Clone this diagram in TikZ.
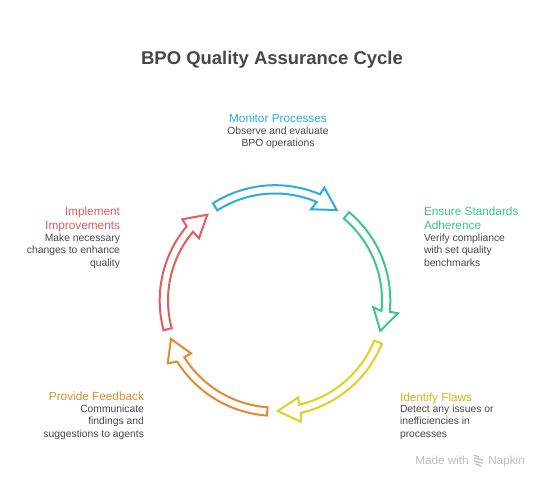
\documentclass[tikz,border=0pt]{standalone}
\usepackage{fontspec}
\setmainfont{Liberation Sans}
\usetikzlibrary{calc}
\definecolor{cblue}{HTML}{2BAEDC}
\definecolor{cgreen}{HTML}{3CC68A}
\definecolor{cyellow}{HTML}{E3CF1F}
\definecolor{corange}{HTML}{E38A30}
\definecolor{cred}{HTML}{E55C5C}
\definecolor{ctext}{HTML}{474747}
\newcommand{\flowarrow}[6]{%
 \draw[flowline,draw=#1] ($(hub)+(#2:115.3)$) arc[start angle=#2,end angle=#3,radius=115.3]
   -- #4 -- #5 -- #6 -- ($(hub)+(#3:107)$) arc[start angle=#3,end angle=#2,radius=107] -- cycle;}
\tikzset{
 x=0.75pt,y=-0.75pt,
 flowline/.style={line width=1.5pt,line join=miter,fill=white},
 ttl/.style={font=\fontsize{8.85}{10.2}\selectfont,inner sep=0pt,outer sep=0pt},
 body/.style={font=\fontsize{7.75}{9.1}\selectfont,text=ctext,inner sep=0pt,outer sep=0pt},
 brand/.style={font=\fontsize{8.8}{10}\selectfont,text=black!25,anchor=base west,inner sep=0pt},
}
\begin{document}
\begin{tikzpicture}
\useasboundingbox (0,0) rectangle (549,488);
\fill[white] (0,0) rectangle (549,488);
\coordinate (hub) at (275,300.5);
\node[font=\bfseries\fontsize{13.85}{16}\selectfont,text=ctext,inner sep=0pt] (title) at (272,60) {BPO Quality Assurance Cycle};
% the y axis is flipped, so angles run clockwise from the right
\flowarrow{cblue}{-122.6}{-67}{(324.3,187.7)}{(336.7,210)}{(311,209.3)}
\flowarrow{cgreen}{-50}{5.6}{(398,313.3)}{(380.3,331)}{(373.3,307.3)}
\flowarrow{cyellow}{22}{77}{(300.7,421.7)}{(277.7,411)}{(298.3,397.3)}
\flowarrow{corange}{94}{148}{(167.7,363.3)}{(171,339)}{(191,353.3)}
\flowarrow{cred}{165}{220}{(182.3,219.3)}{(207.3,214.7)}{(199,238.3)}
\node[ttl,text=cblue,anchor=base,align=center] (t1) at (278,122.6) {Monitor Processes};
\node[body,anchor=base,align=center] (b1) at (278,147) {Observe and evaluate\\BPO operations};
\node[ttl,text=cgreen,anchor=base west,align=left] (t2) at (424,229) {Ensure Standards\\Adherence};
\node[body,anchor=base west,align=left] (b2) at (424,266) {Verify compliance\\with set quality\\benchmarks};
\node[ttl,text=cyellow!90!black,anchor=base west,align=left] (t3) at (400,401.5) {Identify Flaws};
\node[body,anchor=base west,align=left] (b3) at (400,437) {Detect any issues or\\inefficiencies in\\processes};
\node[ttl,text=corange,anchor=base east,align=right] (t4) at (144,400.5) {Provide Feedback};
\node[body,anchor=base east,align=right] (b4) at (144,437) {Communicate\\findings and\\suggestions to agents};
\node[ttl,text=cred,anchor=base east,align=right] (t5) at (120,229) {Implement\\Improvements};
\node[body,anchor=base east,align=right] (b5) at (120,266) {Make necessary\\changes to enhance\\quality};
\node[brand] (made) at (415,464) {Made with};
\node[brand] (nap) at (488,464) {Napkin};
\foreach \yy/\xa/\xb in {455/474/479,458/474/483,461/474/483,464/476/481}{\draw[black!25,line width=1pt] (\xa,\yy) -- (\xb,\yy+2);}
\end{tikzpicture}
\end{document}
